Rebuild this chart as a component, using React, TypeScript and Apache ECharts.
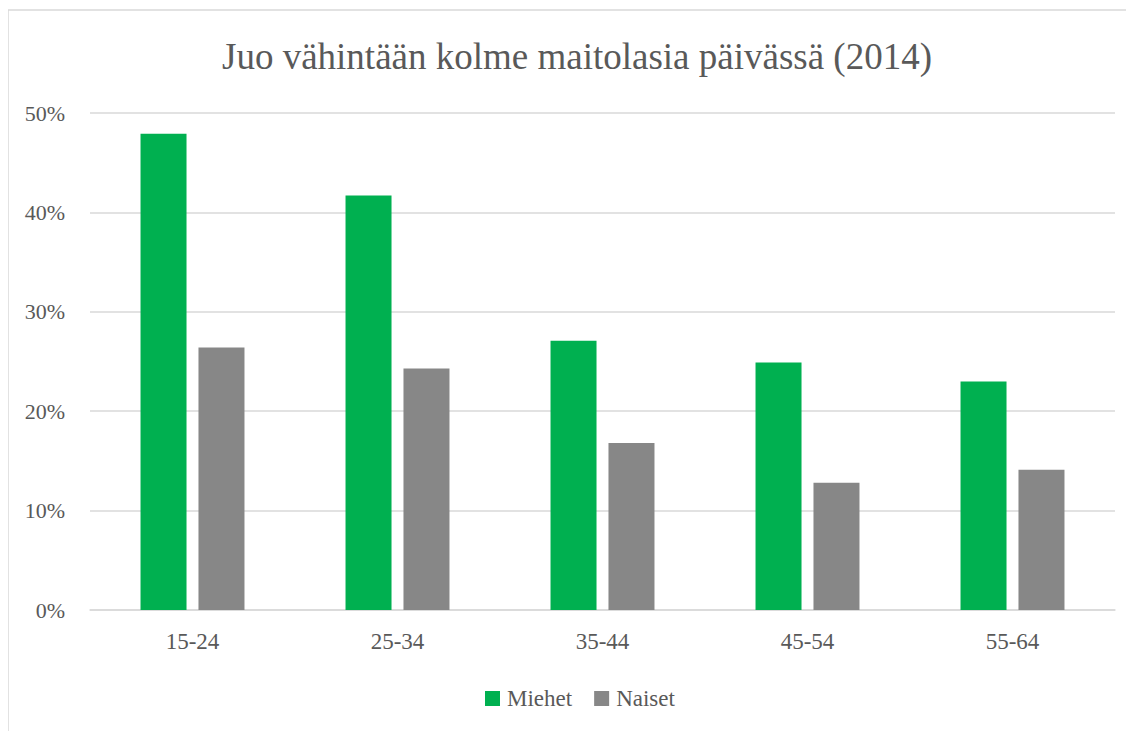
import React, { useEffect, useRef } from "react";
import * as echarts from "echarts";

const categories = ["15-24", "25-34", "35-44", "45-54", "55-64"];
const miehet = [0.479, 0.417, 0.271, 0.249, 0.23];
const naiset = [0.264, 0.243, 0.168, 0.128, 0.141];
const yTicks = [0, 0.1, 0.2, 0.3, 0.4, 0.5];

const FONT = "Liberation Serif";
const TXT = "#595959";

export default function App() {
  const ref = useRef<HTMLDivElement>(null);
  useEffect(() => {
    if (!ref.current) return;
    const chart = echarts.init(ref.current, undefined, { renderer: "svg" });
    chart.setOption({
      animation: false,
      textStyle: { fontFamily: FONT },
      graphic: [
        {
          type: "rect",
          shape: { x: 0, y: 2, width: 1140, height: 740 },
          style: { fill: "none", stroke: "#d9d9d9", lineWidth: 1.5 },
          silent: true,
        },
      ],
      title: {
        text: "Juo vähintään kolme maitolasia päivässä (2014)",
        left: 209,
        top: 25,
        textStyle: { fontFamily: FONT, fontSize: 37, fontWeight: "normal", color: TXT },
      },
      legend: {
        top: 674,
        left: 472,
        itemWidth: 15,
        itemHeight: 15,
        itemGap: 22,
        icon: "rect",
        textStyle: { fontFamily: FONT, fontSize: 23, color: TXT, padding: [0, 0, 0, 2] },
        data: ["Miehet", "Naiset"],
      },
      grid: { left: 82, right: 19, top: 105, bottom: 121, containLabel: false },
      xAxis: {
        type: "category",
        data: categories,
        axisLine: { show: true, lineStyle: { color: "#d9d9d9", width: 1.5 } },
        axisTick: { show: false },
        axisLabel: { fontFamily: FONT, fontSize: 23, color: TXT, margin: 20 },
      },
      yAxis: {
        type: "value",
        min: 0,
        max: 0.5,
        interval: 0.1,
        axisLine: { show: false },
        axisTick: { show: false },
        splitLine: { lineStyle: { color: "#d9d9d9", width: 1.5 } },
        axisLabel: {
          fontFamily: FONT,
          fontSize: 22,
          color: TXT,
          margin: 25,
          formatter: (v: number) => {
            const t = yTicks.find((x) => Math.abs(x - v) < 1e-9);
            return Math.round((t ?? v) * 100) + "%";
          },
        },
      },
      series: [
        {
          name: "Miehet",
          type: "bar",
          data: miehet,
          barWidth: 46,
          barGap: "26%",
          itemStyle: { color: "#00b050" },
        },
        {
          name: "Naiset",
          type: "bar",
          data: naiset,
          barWidth: 46,
          itemStyle: { color: "#878787" },
        },
      ],
    });
    return () => chart.dispose();
  }, []);
  return <div ref={ref} style={{ width: 1126, height: 723 }} />;
}
